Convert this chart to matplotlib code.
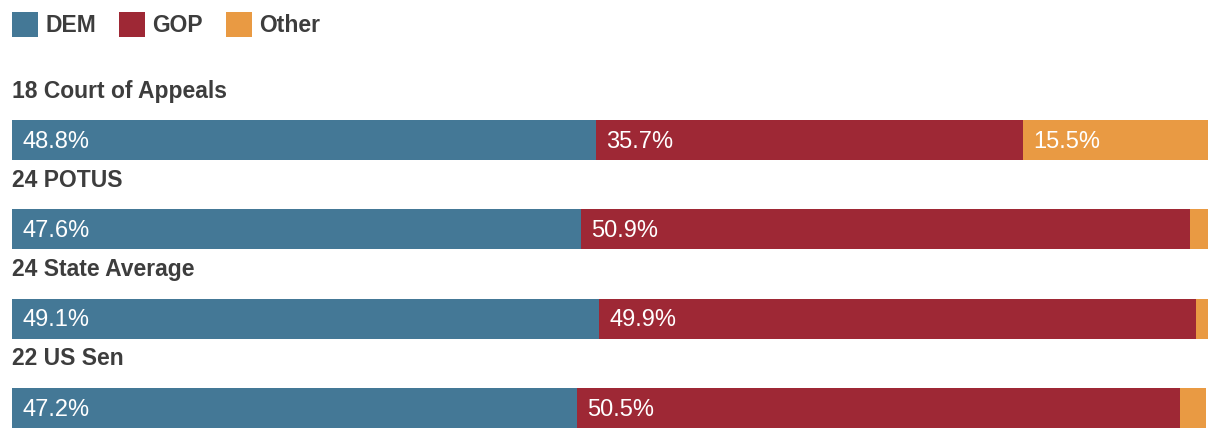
import matplotlib
matplotlib.use("Agg")
import matplotlib.pyplot as plt
import numpy as np
from matplotlib.patches import Patch

# data
races = ["18 Court of Appeals", "24 POTUS", "24 State Average", "22 US Sen"]
dem = [48.8, 47.6, 49.1, 47.2]
gop = [35.7, 50.9, 49.9, 50.5]
other = [15.5, 1.5, 1.0, 2.1]
show_other = [True, False, False, False]  # only labelled when the segment is wide

parties = ["DEM", "GOP", "Other"]
colors = ["#447896", "#9e2835", "#e99a43"]
text_dark = "#3d3d3d"
fonts = ["Liberation Sans", "DejaVu Sans"]

fig = plt.figure(figsize=(12.2, 4.4), dpi=100)
ax = fig.add_axes([12 / 1220, 0, 1196 / 1220, 1])

row_gap = 89.33  # px between bar centres
top_px = 140
ax.set_ylim((440 - top_px) / row_gap, -top_px / row_gap)
ax.set_xlim(0, 100)
ax.axis("off")

y = np.arange(len(races))
bar_h = 40 / row_gap
left = np.zeros(len(races))
for vals, col in zip((dem, gop, other), colors):
    vals = np.array(vals)
    ax.barh(y, vals, left=left, height=bar_h, color=col, linewidth=0)
    for i, (l, v) in enumerate(zip(left, vals)):
        if col == colors[2] and not show_other[i]:
            continue
        ax.text(l + 0.85, y[i] + 0.02, "{:.1f}%".format(v), color="white",
                fontsize=17, va="center", ha="left", family=fonts)
    left += vals

for i, name in enumerate(races):
    ax.text(0, y[i] - 49 / row_gap, name, color=text_dark, fontsize=16.5,
            fontweight="bold", va="center", ha="left", family=fonts)

handles = [Patch(facecolor=c, edgecolor="none") for c in colors]
leg = fig.legend(handles, parties, loc="upper left",
                 bbox_to_anchor=(12 / 1220, 1 - 12 / 440),
                 ncol=3, frameon=False, handlelength=1.15, handleheight=1.3,
                 handletextpad=0.3, columnspacing=1.0, borderaxespad=0,
                 borderpad=0, prop={"family": fonts, "weight": "bold", "size": 16.5})
for t in leg.get_texts():
    t.set_color(text_dark)

fig.savefig("out.png", dpi=100)
